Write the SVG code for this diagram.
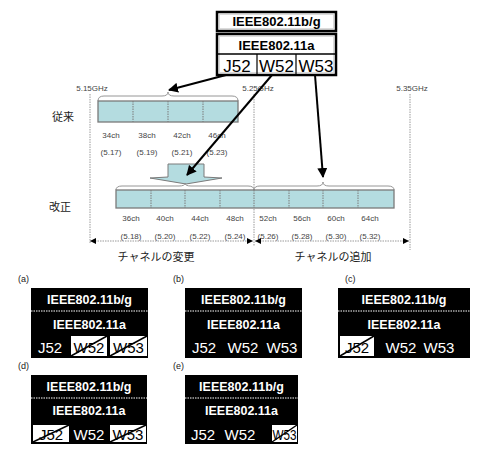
<svg xmlns="http://www.w3.org/2000/svg" width="480" height="464" viewBox="0 0 480 464">
<defs>
<style>
.t{font-family:"Liberation Sans","Noto Sans CJK JP",sans-serif;}
.jp{font-family:"Noto Sans CJK JP","Liberation Sans",sans-serif;font-size:11px;fill:#222;}
.sm{font-family:"Liberation Sans",sans-serif;font-size:8px;fill:#444;text-anchor:middle;}
.cell{fill:#b4dce0;stroke:#7a7a7a;stroke-width:1.3;}
.div{stroke:#7a7a7a;stroke-width:1;stroke-dasharray:1.5 1;}
.brace{fill:none;stroke:#8a8a8a;stroke-width:0.9;}
.vline{stroke:#9a9a9a;stroke-width:1;stroke-dasharray:1.5 1;}
.hdim{stroke:#9a9a9a;stroke-width:1;stroke-dasharray:1.5 1;}
.conn{stroke:#000;stroke-width:2;fill:none;marker-end:url(#ah);}
.bw{font-family:"Liberation Sans",sans-serif;font-weight:bold;font-size:12.5px;fill:#fff;text-anchor:middle;}
.rw{font-family:"Liberation Sans",sans-serif;font-size:15px;fill:#fff;text-anchor:middle;}
.rb{font-family:"Liberation Sans",sans-serif;font-size:15px;fill:#000;text-anchor:middle;}
.pl{font-family:"Liberation Sans",sans-serif;font-size:9px;fill:#222;}
.sep{stroke:#fff;stroke-width:1;stroke-dasharray:1.5 1;}
.x{stroke:#000;stroke-width:1.5;}
</style>
<marker id="ah" viewBox="0 0 10 10" refX="9" refY="5" markerWidth="5" markerHeight="5" orient="auto" markerUnits="strokeWidth">
<path d="M0,0 L10,5 L0,10 Z" fill="#000"/>
</marker>
<marker id="dh" viewBox="0 0 10 10" refX="10" refY="5" markerWidth="8" markerHeight="6" orient="auto-start-reverse" markerUnits="userSpaceOnUse">
<path d="M0,0 L10,5 L0,10 Z" fill="#000"/>
</marker>
</defs>
<rect width="480" height="464" fill="#fff"/>

<g id="standard-box">
<rect x="217" y="12" width="119" height="19" fill="#fff" stroke="#000" stroke-width="2.5"/>
<rect x="219.5" y="14.5" width="114" height="14" fill="none" stroke="#999" stroke-width="0.7" stroke-dasharray="1 1"/>
<text class="t" x="276.5" y="26" font-size="13" font-weight="bold" text-anchor="middle">IEEE802.11b/g</text>
<rect x="217" y="34" width="119" height="41" fill="#fff" stroke="#000" stroke-width="2.5"/>
<rect x="219.5" y="36.5" width="114" height="36" fill="none" stroke="#999" stroke-width="0.7" stroke-dasharray="1 1"/>
<text class="t" x="276.5" y="50" font-size="13" font-weight="bold" text-anchor="middle">IEEE802.11a</text>
<line x1="217" y1="54" x2="336" y2="54" stroke="#000" stroke-width="1.5"/>
<line x1="257" y1="54" x2="257" y2="75" stroke="#000" stroke-width="1.2"/>
<line x1="296" y1="54" x2="296" y2="75" stroke="#000" stroke-width="1.2"/>
<text class="t" x="237" y="72" font-size="17" text-anchor="middle">J52</text>
<text class="t" x="276.5" y="72" font-size="17" text-anchor="middle">W52</text>
<text class="t" x="316" y="72" font-size="17" text-anchor="middle">W53</text>
</g>

<g id="freq-axis">
<text class="sm" x="92" y="91">5.15GHz</text>
<text class="sm" x="258" y="91">5.25GHz</text>
<text class="sm" x="412" y="91">5.35GHz</text>
<line class="vline" x1="90" y1="94" x2="90" y2="243"/>
<line class="vline" x1="254" y1="94" x2="254" y2="246"/>
<line class="vline" x1="410" y1="94" x2="410" y2="250"/>
</g>

<g id="row-old">
<text class="jp" x="52" y="121">従来</text>
<path class="brace" d="M98,101 Q98,96 104,96 L162,96 Q168,96 168,92 Q168,96 174,96 L232,96 Q238,96 238,101"/>
<rect class="cell" x="98" y="101" width="140" height="21"/>
<line class="div" x1="133" y1="101" x2="133" y2="122"/>
<line class="div" x1="168" y1="101" x2="168" y2="122"/>
<line class="div" x1="203" y1="101" x2="203" y2="122"/>
<text class="sm" x="111" y="138">34ch</text>
<text class="sm" x="147" y="138">38ch</text>
<text class="sm" x="182" y="138">42ch</text>
<text class="sm" x="217" y="138">46ch</text>
<text class="sm" x="111" y="155">(5.17)</text>
<text class="sm" x="147" y="155">(5.19)</text>
<text class="sm" x="182" y="155">(5.21)</text>
<text class="sm" x="217" y="155">(5.23)</text>
</g>

<g id="shift-arrow">
<polygon points="168,164 204,164 204,177 222,178 186,184 150,178 168,177" fill="#b4dce0" stroke="#7a7a7a" stroke-width="1"/>
</g>

<g id="row-new">
<text class="jp" x="49" y="211">改正</text>
<path class="brace" d="M116,190 Q116,186 122,186 L179,186 Q185,186 185,183 Q185,186 191,186 L248,186 Q254,186 254,190"/>
<path class="brace" d="M254,190 Q254,186 260,186 L317,186 Q323,186 323,182 Q323,186 329,186 L388,186 Q394,186 394,190"/>
<rect class="cell" x="116" y="190" width="278" height="18"/>
<line class="div" x1="151" y1="190" x2="151" y2="208"/>
<line class="div" x1="185" y1="190" x2="185" y2="208"/>
<line class="div" x1="220" y1="190" x2="220" y2="208"/>
<line class="div" x1="254" y1="190" x2="254" y2="208"/>
<line class="div" x1="289" y1="190" x2="289" y2="208"/>
<line class="div" x1="323" y1="190" x2="323" y2="208"/>
<line class="div" x1="358" y1="190" x2="358" y2="208"/>
<text class="sm" x="131" y="221">36ch</text>
<text class="sm" x="165" y="221">40ch</text>
<text class="sm" x="200" y="221">44ch</text>
<text class="sm" x="235" y="221">48ch</text>
<text class="sm" x="268" y="221">52ch</text>
<text class="sm" x="302" y="221">56ch</text>
<text class="sm" x="336" y="221">60ch</text>
<text class="sm" x="370" y="221">64ch</text>
<text class="sm" x="131" y="239">(5.18)</text>
<text class="sm" x="165" y="239">(5.20)</text>
<text class="sm" x="200" y="239">(5.22)</text>
<text class="sm" x="235" y="239">(5.24)</text>
<text class="sm" x="268" y="239">(5.26)</text>
<text class="sm" x="302" y="239">(5.28)</text>
<text class="sm" x="336" y="239">(5.30)</text>
<text class="sm" x="370" y="239">(5.32)</text>
</g>

<g id="dims">
<line class="hdim" x1="90" y1="241" x2="253" y2="241" marker-start="url(#dh)" marker-end="url(#dh)"/>
<line class="hdim" x1="255" y1="241" x2="409" y2="241" marker-start="url(#dh)" marker-end="url(#dh)"/>
<text class="jp" x="156" y="261" text-anchor="middle">チャネルの変更</text>
<text class="jp" x="333" y="261" text-anchor="middle">チャネルの追加</text>
</g>

<g id="connectors">
<line class="conn" x1="226" y1="75" x2="169" y2="90"/>
<line class="conn" x1="272" y1="75" x2="187" y2="175"/>
<line class="conn" x1="315" y1="75" x2="323" y2="177"/>
</g>

<g id="panel-a">
<text class="pl" x="18" y="282">(a)</text>
<rect x="31" y="288" width="117" height="70" fill="#000"/>
<line class="sep" x1="31" y1="311" x2="148" y2="311"/>
<text class="bw" x="89.5" y="304">IEEE802.11b/g</text>
<text class="bw" x="89.5" y="329">IEEE802.11a</text>
<text class="rw" x="50" y="353">J52</text>
<rect x="71" y="336" width="36" height="20" fill="#fff"/>
<text class="rb" x="89" y="353">W52</text>
<line class="x" x1="71" y1="356" x2="107" y2="336"/>
<rect x="110" y="336" width="37" height="20" fill="#fff"/>
<text class="rb" x="128.5" y="353">W53</text>
<line class="x" x1="110" y1="356" x2="147" y2="336"/>
</g>

<g id="panel-b">
<text class="pl" x="173" y="282">(b)</text>
<rect x="185" y="288" width="117" height="70" fill="#000"/>
<line class="sep" x1="185" y1="311" x2="302" y2="311"/>
<text class="bw" x="243.5" y="304">IEEE802.11b/g</text>
<text class="bw" x="243.5" y="329">IEEE802.11a</text>
<text class="rw" x="204" y="353">J52</text>
<text class="rw" x="243" y="353">W52</text>
<text class="rw" x="282" y="353">W53</text>
</g>

<g id="panel-c">
<text class="pl" x="345" y="282">(c)</text>
<rect x="338" y="288" width="132" height="70" fill="#000"/>
<line class="sep" x1="338" y1="311" x2="470" y2="311"/>
<text class="bw" x="404" y="304">IEEE802.11b/g</text>
<text class="bw" x="404" y="329">IEEE802.11a</text>
<rect x="340" y="336" width="34" height="20" fill="#fff"/>
<text class="rb" x="357" y="353">J52</text>
<line class="x" x1="340" y1="356" x2="374" y2="336"/>
<text class="rw" x="401" y="353">W52</text>
<text class="rw" x="439" y="353">W53</text>
</g>

<g id="panel-d">
<text class="pl" x="18" y="369">(d)</text>
<rect x="31" y="375" width="116" height="69" fill="#000"/>
<line class="sep" x1="31" y1="398" x2="147" y2="398"/>
<text class="bw" x="89" y="391">IEEE802.11b/g</text>
<text class="bw" x="89" y="415">IEEE802.11a</text>
<rect x="33" y="425" width="36" height="17" fill="#fff"/>
<text class="rb" x="51" y="440">J52</text>
<line class="x" x1="33" y1="442" x2="69" y2="425"/>
<text class="rw" x="89" y="440">W52</text>
<rect x="110" y="425" width="36" height="17" fill="#fff"/>
<text class="rb" x="128" y="440">W53</text>
<line class="x" x1="110" y1="442" x2="146" y2="425"/>
</g>

<g id="panel-e">
<text class="pl" x="173" y="369">(e)</text>
<rect x="185" y="375" width="113" height="69" fill="#000"/>
<line class="sep" x1="185" y1="398" x2="298" y2="398"/>
<text class="bw" x="241.5" y="391">IEEE802.11b/g</text>
<text class="bw" x="241.5" y="415">IEEE802.11a</text>
<text class="rw" x="203" y="440">J52</text>
<text class="rw" x="240" y="440">W52</text>
<rect x="272" y="425" width="25" height="17" fill="#fff"/>
<text class="rb" x="284.5" y="440" textLength="24" lengthAdjust="spacingAndGlyphs">W53</text>
<line class="x" x1="272" y1="442" x2="297" y2="425"/>
</g>
</svg>
